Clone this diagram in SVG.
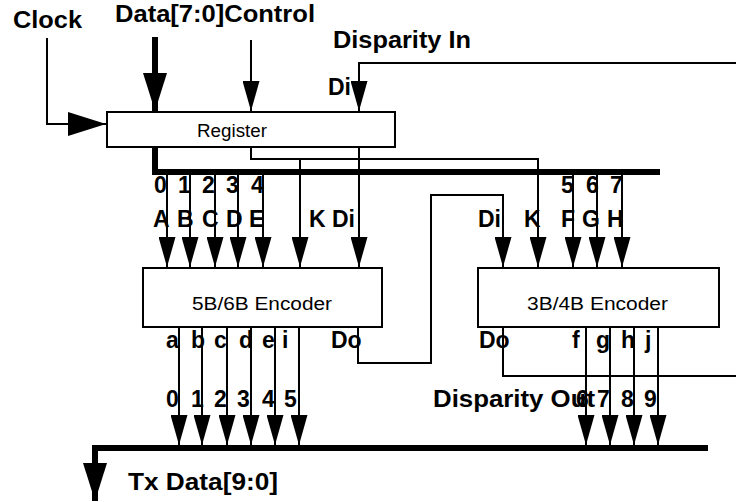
<svg xmlns="http://www.w3.org/2000/svg" width="736" height="502" viewBox="0 0 736 502">
<style>
.b{font-family:"Liberation Sans",Arial,sans-serif;font-weight:bold;font-size:23px;fill:#000}
.r{font-family:"Liberation Sans",Arial,sans-serif;font-size:18px;fill:#000}
.box{fill:#fff;stroke:#000;stroke-width:2}
.w{fill:none;stroke:#000;stroke-width:2}
.t{fill:none;stroke:#000;stroke-width:6}
</style>
<defs>
<marker id="a" markerUnits="userSpaceOnUse" markerWidth="30" markerHeight="17" refX="30" refY="8.5" orient="auto" viewBox="0 0 30 17"><path d="M0,0L30,8.5L0,17Z" fill="#000"/></marker>
<marker id="A" markerUnits="userSpaceOnUse" markerWidth="38" markerHeight="24" refX="38" refY="12" orient="auto" viewBox="0 0 38 24"><path d="M0,0L38,12L0,24Z" fill="#000"/></marker>
</defs>
<g id="connectors">
<path class="w" d="M47,38V124H106" marker-end="url(#A)"/>
<path class="t" d="M155,37V111" marker-end="url(#A)"/>
<path class="w" d="M251,40V111" marker-end="url(#a)"/>
<path class="w" d="M736,63H359V111" marker-end="url(#a)"/>
<path class="t" d="M155,147V172H660"/>
<path class="w" d="M251,147V159H538V267" marker-end="url(#a)"/>
<path class="w" d="M300,159V267" marker-end="url(#a)"/>
<path class="w" d="M359,147V267" marker-end="url(#a)"/>
<path class="w" d="M167,172V267" marker-end="url(#a)"/>
<path class="w" d="M190,172V267" marker-end="url(#a)"/>
<path class="w" d="M215,172V267" marker-end="url(#a)"/>
<path class="w" d="M238,172V267" marker-end="url(#a)"/>
<path class="w" d="M263,172V267" marker-end="url(#a)"/>
<path class="w" d="M573,172V267" marker-end="url(#a)"/>
<path class="w" d="M597,172V267" marker-end="url(#a)"/>
<path class="w" d="M622,172V267" marker-end="url(#a)"/>
<path class="w" d="M358,327V363H431V195H503V267" marker-end="url(#a)"/>
<path class="w" d="M503,327V376H736"/>
<path class="w" d="M179,327V445" marker-end="url(#a)"/>
<path class="w" d="M202,327V445" marker-end="url(#a)"/>
<path class="w" d="M227,327V445" marker-end="url(#a)"/>
<path class="w" d="M251,327V445" marker-end="url(#a)"/>
<path class="w" d="M275,327V445" marker-end="url(#a)"/>
<path class="w" d="M299,327V445" marker-end="url(#a)"/>
<path class="w" d="M586,327V445" marker-end="url(#a)"/>
<path class="w" d="M610,327V445" marker-end="url(#a)"/>
<path class="w" d="M634,327V445" marker-end="url(#a)"/>
<path class="w" d="M658,327V445" marker-end="url(#a)"/>
<path class="t" d="M708,448H95V501" marker-end="url(#A)"/>
</g>
<g id="register">
<rect class="box" x="107" y="112" width="288" height="35"/>
<text class="r" x="197" y="137" textLength="70" lengthAdjust="spacingAndGlyphs">Register</text>
</g>
<g id="enc56">
<rect class="box" x="143" y="268" width="239" height="59"/>
<text class="r" x="192" y="310" textLength="140" lengthAdjust="spacingAndGlyphs">5B/6B Encoder</text>
</g>
<g id="enc34">
<rect class="box" x="478" y="268" width="241" height="59"/>
<text class="r" x="527" y="310" textLength="141" lengthAdjust="spacingAndGlyphs">3B/4B Encoder</text>
</g>
<g id="labels" class="b">
<text class="b" x="13" y="28" textLength="69" lengthAdjust="spacingAndGlyphs">Clock</text>
<text class="b" x="115" y="22" textLength="200" lengthAdjust="spacingAndGlyphs">Data[7:0]Control</text>
<text class="b" x="333" y="48" textLength="138" lengthAdjust="spacingAndGlyphs">Disparity In</text>
<text class="b" x="328" y="95">Di</text>
<text class="b" x="154" y="193">0</text>
<text class="b" x="178" y="193">1</text>
<text class="b" x="202" y="193">2</text>
<text class="b" x="226" y="193">3</text>
<text class="b" x="251" y="193">4</text>
<text class="b" x="153" y="227">A</text>
<text class="b" x="177" y="227">B</text>
<text class="b" x="202" y="227">C</text>
<text class="b" x="226" y="227">D</text>
<text class="b" x="249" y="227">E</text>
<text class="b" x="309" y="227">K</text>
<text class="b" x="332" y="227">Di</text>
<text class="b" x="561" y="193">5</text>
<text class="b" x="586" y="193">6</text>
<text class="b" x="610" y="193">7</text>
<text class="b" x="478" y="227">Di</text>
<text class="b" x="524" y="227">K</text>
<text class="b" x="561" y="227">F</text>
<text class="b" x="582" y="227">G</text>
<text class="b" x="607" y="227">H</text>
<text class="b" x="166" y="348">a</text>
<text class="b" x="191" y="348">b</text>
<text class="b" x="214" y="348">c</text>
<text class="b" x="239" y="348">d</text>
<text class="b" x="262" y="348">e</text>
<text class="b" x="282" y="348">i</text>
<text class="b" x="331" y="348">Do</text>
<text class="b" x="479" y="348">Do</text>
<text class="b" x="572" y="348">f</text>
<text class="b" x="596" y="348">g</text>
<text class="b" x="621" y="348">h</text>
<text class="b" x="645" y="348">j</text>
<text class="b" x="166" y="407">0</text>
<text class="b" x="191" y="407">1</text>
<text class="b" x="214" y="407">2</text>
<text class="b" x="237" y="407">3</text>
<text class="b" x="262" y="407">4</text>
<text class="b" x="284" y="407">5</text>
<text class="b" x="433" y="407" textLength="162" lengthAdjust="spacingAndGlyphs">Disparity Out</text>
<text class="b" x="576" y="407">6</text>
<text class="b" x="597" y="407">7</text>
<text class="b" x="621" y="407">8</text>
<text class="b" x="644" y="407">9</text>
<text class="b" x="128" y="490" textLength="150" lengthAdjust="spacingAndGlyphs">Tx Data[9:0]</text>
</g>
</svg>
